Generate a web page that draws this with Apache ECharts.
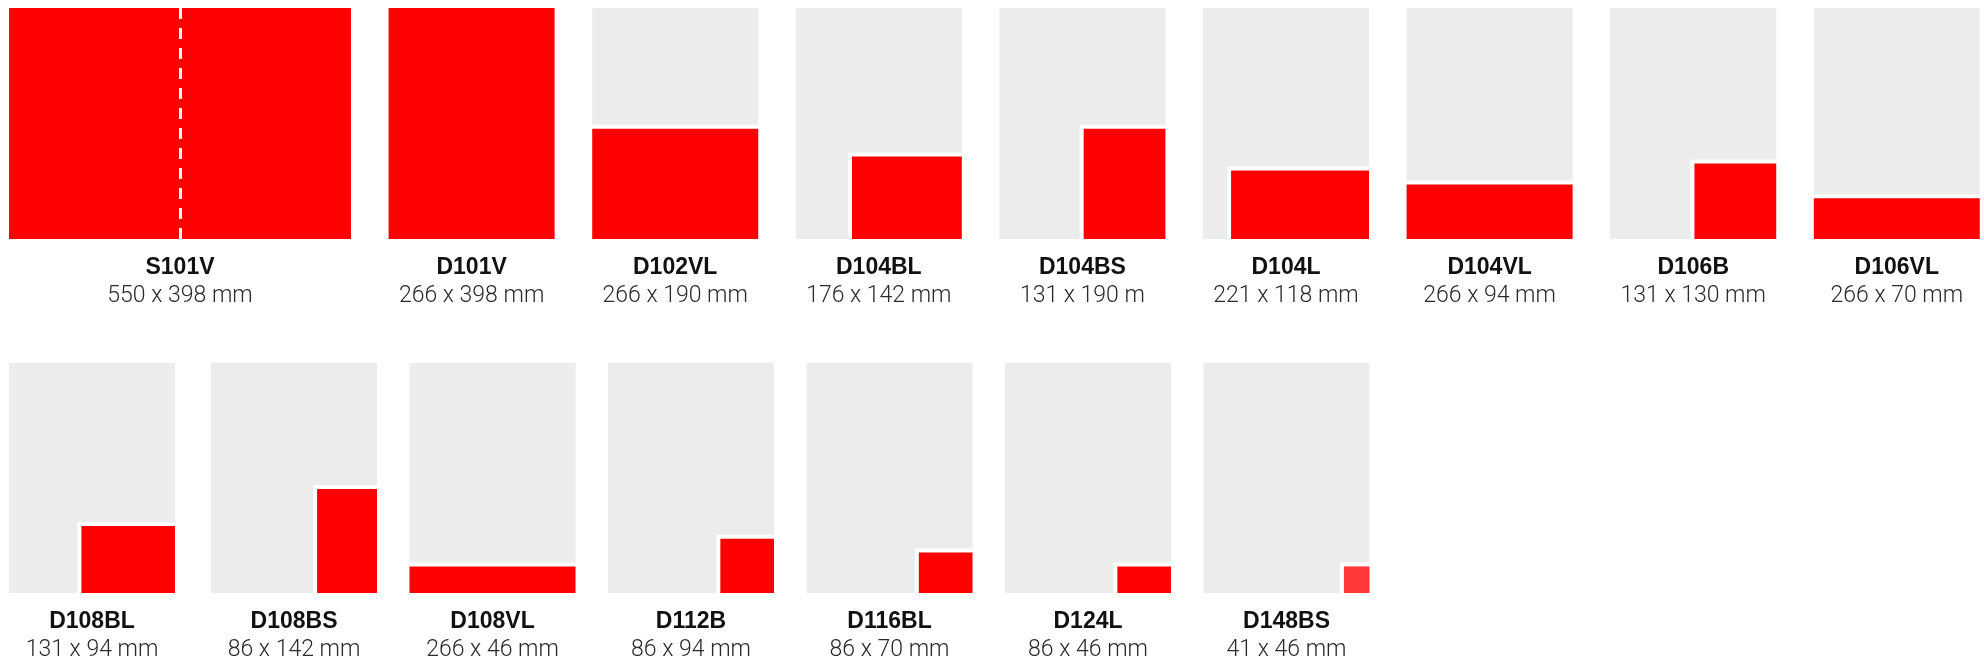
<!DOCTYPE html>
<html>
<head>
<meta charset="utf-8">
<script src="https://cdn.jsdelivr.net/npm/echarts@6/dist/echarts.min.js"></script>
<style>
  html, body { margin: 0; padding: 0; background: #ffffff; }
  #chart { width: 1984px; height: 663px; }
</style>
</head>
<body>
<div id="chart"></div>
<script>
// ---- data ----
const codes      = ['S101V','D101V','D102VL','D104BL','D104BS','D104L','D104VL','D106B','D106VL',
                    'D108BL','D108BS','D108VL','D112B','D116BL','D124L','D148BS'];
// red cut-out sizes (mm) as drawn in the picture
const cutWidths  = [550, 266, 266, 176, 131, 221, 266, 131, 266, 150, 96, 266, 86, 86, 86, 41];
const cutHeights = [398, 398, 190, 142, 190, 118, 94, 130, 70, 116, 180, 46, 94, 70, 46, 46];
const sheetWidths  = [550, 266, 266, 266, 266, 266, 266, 266, 266, 266, 266, 266, 266, 266, 266, 266];
const sheetHeight  = 398;
const dimLabels  = ['550 x 398 mm','266 x 398 mm','266 x 190 mm','176 x 142 mm','131 x 190 m',
                    '221 x 118 mm','266 x 94 mm','131 x 130 mm','266 x 70 mm',
                    '131 x 94 mm','86 x 142 mm','266 x 46 mm','86 x 94 mm','86 x 70 mm',
                    '86 x 46 mm','41 x 46 mm'];
const foldLines  = { 'S101V': [275] };

// ---- styles / layout ----
const RED = '#ff0000';
const itemColors = { 'D148BS': '#ff3838' };
const GRAY = '#ececec';
const BORDER = 4;
const UNIT_W = 166, PANEL_H = 231;
const ROW_TOP = [8, 363];

function layout(i) {
  if (i < 9) {
    let left;
    if (i === 0) left = 9;
    else left = 388.6 + (i - 1) * 203.6;
    const w = i === 0 ? 342 : UNIT_W;
    return { left: left, top: ROW_TOP[0], width: w, height: PANEL_H };
  }
  const j = i - 9;
  const left = j === 0 ? 9 : 211 + (j - 1) * 198.5;
  return { left: left, top: ROW_TOP[1], width: UNIT_W, height: PANEL_H };
}

const grids = [], xAxes = [], yAxes = [], series = [];
codes.forEach(function (code, i) {
  const L = layout(i);
  grids.push({
    left: L.left, top: L.top, width: L.width, height: L.height,
    show: true, backgroundColor: GRAY, borderWidth: 0, containLabel: false
  });
  xAxes.push({
    gridIndex: i, type: 'value', min: 0, max: sheetWidths[i],
    axisLine: { show: false }, axisTick: { show: false }, axisLabel: { show: false },
    splitLine: { show: false },
    name: '{a|' + code + '}\n{b|' + dimLabels[i] + '}',
    nameLocation: 'middle', nameGap: 15,
    nameTextStyle: {
      rich: {
        a: { fontFamily: 'Liberation Sans', fontWeight: 'bold', fontSize: 23, color: '#111111', lineHeight: 28, align: 'center' },
        b: { fontFamily: 'Roboto', fontWeight: 300, fontSize: 23, color: '#2a2a2a', lineHeight: 29, align: 'center' }
      }
    }
  });
  yAxes.push({
    gridIndex: i, type: 'value', min: 0, max: sheetHeight, show: false
  });
  const color = itemColors[code] || RED;
  const sw = sheetWidths[i];
  const s = {
    type: 'custom',
    xAxisIndex: i, yAxisIndex: i,
    silent: true,
    data: [[cutWidths[i], cutHeights[i]]],
    renderItem: function (params, api) {
      const w = api.value(0), h = api.value(1);
      const p1 = api.coord([sw - w, h]);
      const p2 = api.coord([sw, 0]);
      return {
        type: 'group',
        children: [
          { type: 'rect', shape: { x: p1[0] - BORDER, y: p1[1] - BORDER, width: p2[0] - p1[0] + BORDER, height: p2[1] - p1[1] + BORDER },
            style: { fill: '#ffffff' } },
          { type: 'rect', shape: { x: p1[0], y: p1[1], width: p2[0] - p1[0], height: p2[1] - p1[1] },
            style: { fill: color } }
        ]
      };
    }
  };
  if (foldLines[code]) {
    s.markLine = {
      silent: true, symbol: 'none', animation: false,
      label: { show: false },
      lineStyle: { color: '#ffffff', width: 3, type: [11, 9], opacity: 1 },
      data: foldLines[code].map(function (v) { return { xAxis: v }; })
    };
  }
  series.push(s);
});

const chart = echarts.init(document.getElementById('chart'), null, { renderer: 'canvas' });
chart.setOption({
  animation: false,
  backgroundColor: '#ffffff',
  grid: grids, xAxis: xAxes, yAxis: yAxes, series: series
});
</script>
</body>
</html>
